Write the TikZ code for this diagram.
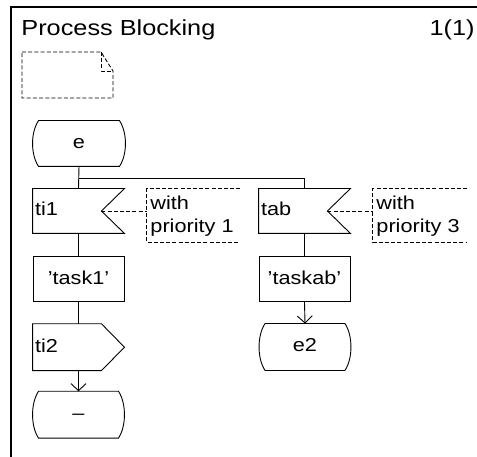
\documentclass[tikz,border=0pt]{standalone}
\usepackage{fontspec}
\setmainfont[FakeStretch=1.16]{Liberation Sans}
\usetikzlibrary{arrows.meta}

% SDL symbol outlines, drawn round named (invisible) nodes
\newcommand\sdlstate[1]{%
  \draw ([xshift=6pt]#1.north west) -- ([xshift=-6pt]#1.north east)
    .. controls ([xshift=2pt,yshift=-12pt]#1.north east) and ([xshift=2pt,yshift=12pt]#1.south east) .. ([xshift=-6pt]#1.south east)
    -- ([xshift=6pt]#1.south west)
    .. controls ([xshift=-2pt,yshift=12pt]#1.south west) and ([xshift=-2pt,yshift=-12pt]#1.north west) .. cycle;}
\newcommand\sdlinput[1]{%
  \draw (#1.north west) -- (#1.north east) -- ([xshift=-23pt]#1.east) -- (#1.south east) -- (#1.south west) -- cycle;
  \coordinate (#1-notch) at ([xshift=-23pt]#1.east);}
\newcommand\sdloutput[1]{%
  \draw (#1.north west) -- ([xshift=-23pt]#1.north east) -- (#1.east) -- ([xshift=-23pt]#1.south east) -- (#1.south west) -- cycle;}
\newcommand\sdlcomment[1]{%
  \draw[dashline] (#1.north east) -- (#1.north west) -- (#1.south west) -- (#1.south east);}

\begin{document}
\begin{tikzpicture}[x=1pt,y=-1pt,
  line width=0.9pt,
  lbl/.style={font=\fontsize{18.7}{23}\selectfont},
  shapebox/.style={inner sep=0pt, text height=10pt, text depth=0pt, lbl},
  statebox/.style={shapebox, minimum width=92pt, minimum height=45pt},
  taskbox/.style={shapebox, draw, minimum width=91pt, minimum height=45pt},
  sigbox/.style={shapebox, minimum width=91pt, minimum height=44pt, text width=87pt, align=left, inner xsep=2pt},
  combox/.style={inner sep=0pt, minimum height=53pt},
  comtext/.style={lbl, inner sep=0pt, anchor=base west, align=left},
  dashline/.style={dash pattern=on 4pt off 2.2pt},
  arr/.style={-{Straight Barb[length=7pt,width=15pt]}}]
\useasboundingbox (0,0) rectangle (477,457);

% diagram frame and heading
\draw[line width=1.6pt] (477,7) -- (11,7) -- (11,457);
\node[anchor=base west, inner sep=0pt, font=\fontsize{21.8}{26}\selectfont] (title) at (21,36) {Process Blocking};
\node[anchor=base east, inner sep=0pt, font=\fontsize{21.8}{26}\selectfont] (page) at (475,36) {1(1)};

% text symbol
\draw[dashline] (22,52) -- (101,52) -- (113,71) -- (113,98) -- (22,98) -- cycle;
\draw[dashline] (101,52) -- (101,71) -- (113,71);

% left branch
\node[statebox] (e) at (79,143.5) {e};
\node[sigbox] (ti1) at (78.5,211) {ti1};
\node[taskbox] (task1) at (78.5,279.2) {'task1'};
\node[sigbox, minimum height=46pt] (ti2) at (78.5,347.2) {ti2};
\node[statebox, minimum width=91pt, minimum height=46pt] (dash) at (78.5,414.7) {–};

% right branch
\node[sigbox] (tab) at (304.5,211) {tab};
\node[taskbox] (taskab) at (304.5,279.2) {'taskab'};
\node[statebox, minimum width=91pt, minimum height=46pt] (e2) at (305,347) {e2};

% comments (the base anchor of a two-line node sits on its last line)
\node[combox, minimum width=93pt] (c1) at (193.5,215.7) {};
\node[combox, minimum width=94pt] (c3) at (420,215.7) {};
\node[comtext] (c1t) at (150,233) {with\\priority 1};
\node[comtext] (c3t) at (376,233) {with\\priority 3};

\sdlstate{e}
\sdlstate{dash}
\sdlstate{e2}
\sdlinput{ti1}
\sdlinput{tab}
\sdloutput{ti2}
\sdlcomment{c1}
\sdlcomment{c3}

% flow lines
\coordinate (j) at (78.5,178);
\draw (e.south) -- (ti1.north);
\draw (j) -| (tab.north);
\draw (ti1.south) -- (task1.north);
\draw (task1.south) -- (ti2.north);
\draw[arr] (ti2.south) -- (dash.north);
\draw (tab.south) -- (taskab.north);
\draw[arr] (taskab.south) -- (e2.north);

% comment connectors
\draw[dashline] (ti1-notch) -- (ti1-notch -| c1.west);
\draw[dashline] (tab-notch) -- (tab-notch -| c3.west);
\end{tikzpicture}
\end{document}
